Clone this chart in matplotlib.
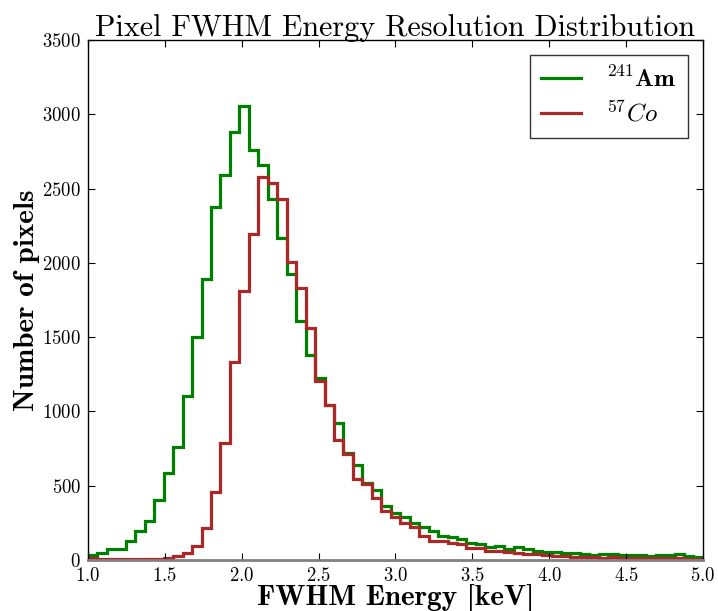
"""
Pixel FWHM energy resolution distribution for the two calibration sources.
"""

import matplotlib
matplotlib.use("Agg")
import matplotlib.pyplot as plt
import numpy as np

plt.rcParams["font.family"] = "serif"
plt.rcParams["font.serif"] = ["cmr10", "DejaVu Serif"]
plt.rcParams["mathtext.fontset"] = "cm"
plt.rcParams["axes.formatter.use_mathtext"] = True

# 65 equal bins between 1.0 and 5.0 keV
bin_edges = np.linspace(1.0, 5.0, 66)

am241_counts = [
    34, 45, 72, 76, 128, 195, 262, 404, 588, 758,
    1104, 1503, 1893, 2376, 2593, 2882, 3053, 2759, 2662, 2433,
    2165, 1922, 1609, 1380, 1223, 1043, 920, 722, 639, 520,
    471, 363, 314, 292, 251, 220, 197, 162, 153, 139,
    112, 108, 90, 94, 74, 85, 76, 63, 56, 54,
    45, 45, 40, 36, 38, 38, 36, 34, 31, 29,
    31, 36, 38, 25, 22,
]

co57_counts = [
    10, 8, 5, 4, 4, 5, 6, 8, 12, 27,
    45, 96, 218, 455, 790, 1333, 1811, 2194, 2576, 2535,
    2428, 2008, 1833, 1559, 1207, 1043, 808, 713, 543, 509,
    415, 330, 292, 251, 220, 164, 130, 130, 112, 105,
    83, 79, 60, 58, 52, 48, 40, 38, 32, 30,
    24, 22, 20, 18, 16, 17, 14, 15, 12, 13,
    12, 10, 10, 9, 8,
]

series_labels = [r"$^{241}\mathbf{Am}$", r"$^{57}Co$"]
series_colors = ["#008000", "#aa2828"]


def main() -> None:
    fig = plt.figure(figsize=(7.18, 6.11), dpi=100)
    ax = fig.add_axes([0.1226, 0.0835, 0.8564, 0.851])

    for counts, label, color in zip([am241_counts, co57_counts], series_labels, series_colors):
        ax.stairs(counts, bin_edges, color=color, linewidth=2.3, label=label)

    ax.set_xlim(1.0, 5.0)
    ax.set_ylim(0, 3500)
    ax.set_xticks(np.arange(1.0, 5.01, 0.5))
    ax.set_yticks(np.arange(0, 3501, 500))
    ax.tick_params(direction="in", top=True, right=True, length=5, labelsize=13.5, pad=5)
    for lab in ax.get_xticklabels() + ax.get_yticklabels():
        lab.set_fontfamily("cmr10")

    ax.spines["bottom"].set_color("#808080")
    ax.spines["bottom"].set_linewidth(2.0)
    for side in ["left", "right", "top"]:
        ax.spines[side].set_linewidth(1.0)

    ax.set_title("Pixel FWHM Energy Resolution Distribution", fontsize=21.7,
                 fontfamily="cmr10", pad=3)
    ax.set_xlabel("FWHM Energy [keV]", fontsize=21, fontfamily="cmb10", labelpad=-1)
    ax.set_ylabel("Number of pixels", fontsize=21, fontfamily="cmb10", labelpad=2)

    leg = ax.legend(loc="upper right", fontsize=18, frameon=True, fancybox=False,
                    handlelength=1.6, borderpad=0.45, labelspacing=0.35,
                    handletextpad=1.0, borderaxespad=0.6)
    leg.get_frame().set_edgecolor("black")
    leg.get_frame().set_linewidth(1.0)

    fig.savefig("out.png", dpi=100)
    plt.close(fig)


if __name__ == "__main__":
    main()
